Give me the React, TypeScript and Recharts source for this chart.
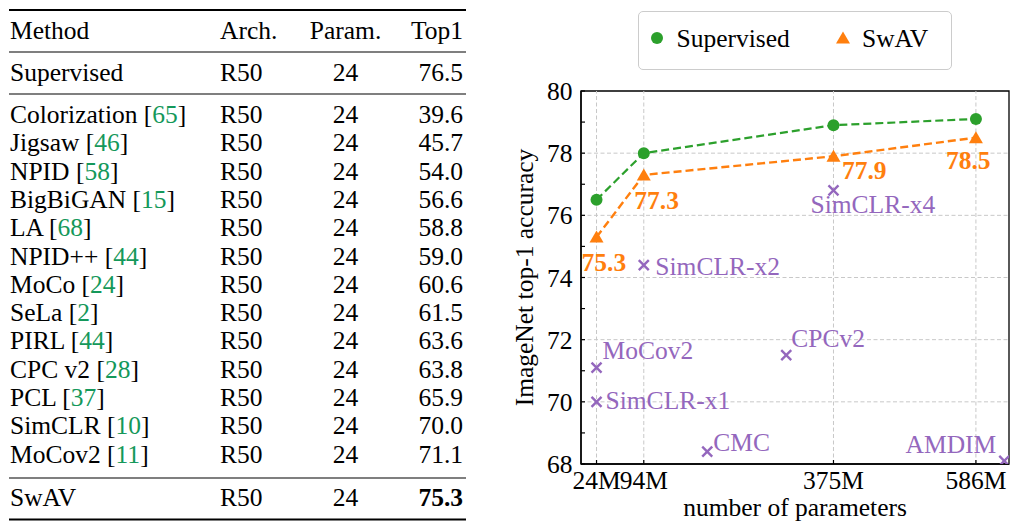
import React from "react";
import {
  ComposedChart,
  Scatter,
  XAxis,
  YAxis,
  ReferenceLine,
  ReferenceArea,
  Legend,
  Label,
} from "recharts";

const FONT = '"Liberation Serif", "Times New Roman", serif';
const FS = 25.5;
const GREEN = "#2ca02c";
const ORANGE = "#ff7f0e";
const PURPLE = "#9467bd";
const CITE = "#14985a";
const GRID = "#c8c8c8";

// ---- table data ----
const tableMethods = [
  "Colorization", "Jigsaw", "NPID", "BigBiGAN", "LA", "NPID++", "MoCo",
  "SeLa", "PIRL", "CPC v2", "PCL", "SimCLR", "MoCov2",
];
const tableRefs = [65, 46, 58, 15, 68, 44, 24, 2, 44, 28, 37, 10, 11];
const tableTop1 = [39.6, 45.7, 54.0, 56.6, 58.8, 59.0, 60.6, 61.5, 63.6, 63.8, 65.9, 70.0, 71.1];
const supervisedRowTop1 = 76.5;
const swavRowTop1 = 75.3;

// ---- chart data ----
const paramTicks = [24, 94, 375, 586];
const accTicks = [68, 69, 70, 71, 72, 73, 74, 75, 76, 77, 78, 79, 80];
const supervisedParams = [24, 94, 375, 586];
const supervisedTop1 = [76.5, 78.0, 78.9, 79.1];
const swavParams = [24, 94, 375, 586];
const swavTop1 = [75.3, 77.3, 77.9, 78.5];
const otherNames = ["SimCLR-x4", "SimCLR-x2", "MoCov2", "SimCLR-x1", "CPCv2", "CMC", "AMDIM"];
const otherParams = [375, 94, 24, 24, 305, 188, 628];
const otherTop1 = [76.8, 74.4, 71.1, 70.0, 71.5, 68.4, 68.1];

// label placement (px offset from the marker)
const otherLabelPos: Record<string, [number, number, "start" | "end"]> = {
  "SimCLR-x4": [-23, 23, "start"],
  "SimCLR-x2": [11.5, 10, "start"],
  MoCov2: [6, -8.5, "start"],
  "SimCLR-x1": [9, 7.5, "start"],
  CPCv2: [5, -8.5, "start"],
  CMC: [6, -0.5, "start"],
  AMDIM: [-8, -8, "end"],
};
const swavLabelPos: [number, number][] = [[-15, 33.5], [-9.5, 34.5], [8.5, 22.5], [-30, 31]];

const supervisedData = supervisedParams.map((x, i) => ({ x, y: supervisedTop1[i] }));
const swavData = swavParams.map((x, i) => ({ x, y: swavTop1[i], idx: i }));
const otherData = otherParams.map((x, i) => ({ x, y: otherTop1[i], name: otherNames[i] }));

const rowY = (i: number) => 123 + i * 28.3;

function Table() {
  const mX = 10, aX = 220, pX = 345.5, tX = 463;
  return (
    <svg width={480} height={528} style={{ position: "absolute", left: 0, top: 0 }}>
      <g fontFamily={FONT} fontSize={FS} fill="#000">
        <line x1={9} x2={466} y1={10} y2={10} stroke="#000" strokeWidth={2} />
        <text x={mX} y={39.3}>Method</text>
        <text x={aX} y={39.3}>Arch.</text>
        <text x={pX} y={39.3} textAnchor="middle">Param.</text>
        <text x={tX} y={39.3} textAnchor="end">Top1</text>
        <line x1={9} x2={466} y1={52} y2={52} stroke="#000" strokeWidth={1.1} />
        <text x={mX} y={81}>Supervised</text>
        <text x={aX} y={81}>R50</text>
        <text x={pX} y={81} textAnchor="middle">24</text>
        <text x={tX} y={81} textAnchor="end">{supervisedRowTop1.toFixed(1)}</text>
        <line x1={9} x2={466} y1={94} y2={94} stroke="#000" strokeWidth={1.1} />
        {tableMethods.map((m, i) => (
          <g key={m}>
            <text x={mX} y={rowY(i)}>
              <tspan>{m} [</tspan>
              <tspan fill={CITE}>{tableRefs[i]}</tspan>
              <tspan>]</tspan>
            </text>
            <text x={aX} y={rowY(i)}>R50</text>
            <text x={pX} y={rowY(i)} textAnchor="middle">24</text>
            <text x={tX} y={rowY(i)} textAnchor="end">{tableTop1[i].toFixed(1)}</text>
          </g>
        ))}
        <line x1={9} x2={466} y1={478} y2={478} stroke="#000" strokeWidth={1.1} />
        <text x={mX} y={506}>SwAV</text>
        <text x={aX} y={506}>R50</text>
        <text x={pX} y={506} textAnchor="middle">24</text>
        <text x={tX} y={506} textAnchor="end" fontWeight="bold">{swavRowTop1.toFixed(1)}</text>
        <line x1={9} x2={466} y1={519.5} y2={519.5} stroke="#000" strokeWidth={2} />
      </g>
    </svg>
  );
}

function LegendBox() {
  return (
    <div
      style={{
        width: 314,
        height: 59,
        boxSizing: "border-box",
        border: "1.5px solid #cccccc",
        borderRadius: 5,
        background: "#fff",
      }}
    >
      <svg width={311} height={56} style={{ display: "block" }}>
        <circle cx={18} cy={26} r={6} fill={GREEN} />
        <text x={37.5} y={34.5} fontFamily={FONT} fontSize={FS} fill="#000">Supervised</text>
        <polygon points="204,19.5 197,31.5 211,31.5" fill={ORANGE} />
        <text x={223} y={34.5} fontFamily={FONT} fontSize={FS} fill="#000">SwAV</text>
      </svg>
    </div>
  );
}

const CircleShape = (p: any) => <circle cx={p.cx} cy={p.cy} r={6} fill={GREEN} />;

const TriangleShape = (p: any) => {
  const { cx, cy } = p;
  const idx = p.payload?.idx ?? 0;
  const [dx, dy] = swavLabelPos[idx];
  return (
    <g>
      <polygon points={`${cx},${cy - 6.5} ${cx - 7},${cy + 5.5} ${cx + 7},${cy + 5.5}`} fill={ORANGE} />
      <text x={cx + dx} y={cy + dy} fill={ORANGE} fontWeight="bold" fontFamily={FONT} fontSize={FS}>
        {swavTop1[idx].toFixed(1)}
      </text>
    </g>
  );
};

const CrossShape = (p: any) => {
  const { cx, cy } = p;
  const name = p.payload?.name ?? "";
  const [dx, dy, anchor] = otherLabelPos[name] ?? [6, 0, "start"];
  return (
    <g>
      <line x1={cx - 5} y1={cy - 5} x2={cx + 5} y2={cy + 5} stroke={PURPLE} strokeWidth={2.4} />
      <line x1={cx - 5} y1={cy + 5} x2={cx + 5} y2={cy - 5} stroke={PURPLE} strokeWidth={2.4} />
      <text x={cx + dx} y={cy + dy} textAnchor={anchor} fill={PURPLE} fontFamily={FONT} fontSize={FS}>
        {name}
      </text>
    </g>
  );
};

const tickStyle = { fill: "#000", fontSize: FS, fontFamily: FONT };

export default function App() {
  return (
    <div style={{ position: "absolute", left: 0, top: 0, width: 1022, height: 528, background: "#fff" }}>
      <Table />
      <div style={{ position: "absolute", left: 500, top: 0 }}>
        <ComposedChart width={522} height={528} margin={{ top: 91, right: 13, bottom: 0, left: 21 }}>
          <XAxis
            type="number"
            dataKey="x"
            domain={[1, 635]}
            ticks={paramTicks}
            interval={0}
            allowDataOverflow
            tickFormatter={(v: number) => `${v}M`}
            height={64}
            tickSize={-4}
            tickMargin={10.5}
            axisLine={{ stroke: "#000", strokeWidth: 1.4 }}
            tickLine={{ stroke: "#000", strokeWidth: 1.2 }}
            tick={tickStyle}
          >
            <Label
              content={() => (
                <text x={295} y={516} textAnchor="middle" fontFamily={FONT} fontSize={FS} fill="#000">
                  number of parameters
                </text>
              )}
            />
          </XAxis>
          <YAxis
            type="number"
            dataKey="y"
            domain={[68, 80]}
            ticks={accTicks}
            interval={0}
            allowDataOverflow
            tickFormatter={(v: number) => (v % 2 === 0 ? String(v) : "")}
            width={60}
            tickSize={-4}
            tickMargin={12.5}
            axisLine={{ stroke: "#000", strokeWidth: 1.4 }}
            tickLine={{ stroke: "#000", strokeWidth: 1.2 }}
            tick={tickStyle}
          >
            <Label
              content={() => (
                <text
                  x={33}
                  y={277.5}
                  transform="rotate(-90 33 277.5)"
                  textAnchor="middle"
                  fontFamily={FONT}
                  fontSize={FS}
                  fill="#000"
                >
                  ImageNet top-1 accuracy
                </text>
              )}
            />
          </YAxis>
          {paramTicks.map((v) => (
            <ReferenceLine key={"gx" + v} x={v} stroke={GRID} strokeDasharray="4 2.5" strokeWidth={1} />
          ))}
          {[70, 72, 74, 76, 78].map((v) => (
            <ReferenceLine key={"gy" + v} y={v} stroke={GRID} strokeDasharray="4 2.5" strokeWidth={1} />
          ))}
          <ReferenceArea x1={1} x2={635} y1={68} y2={80} fill="none" stroke="#000" strokeWidth={1.3} />
          <Legend
            layout="horizontal"
            verticalAlign="middle"
            align="center"
            wrapperStyle={{ top: 11, left: 138, width: 314, height: 59 }}
            content={() => <LegendBox />}
          />
          <Scatter
            name="Supervised"
            data={supervisedData}
            fill={GREEN}
            line={{ stroke: GREEN, strokeWidth: 2.2, strokeDasharray: "8 4" }}
            shape={CircleShape}
            isAnimationActive={false}
          />
          <Scatter
            name="SwAV"
            data={swavData}
            fill={ORANGE}
            line={{ stroke: ORANGE, strokeWidth: 2.4, strokeDasharray: "8 4" }}
            shape={TriangleShape}
            isAnimationActive={false}
          />
          <Scatter
            name="Others"
            data={otherData}
            fill={PURPLE}
            shape={CrossShape}
            legendType="none"
            isAnimationActive={false}
          />
        </ComposedChart>
      </div>
    </div>
  );
}
